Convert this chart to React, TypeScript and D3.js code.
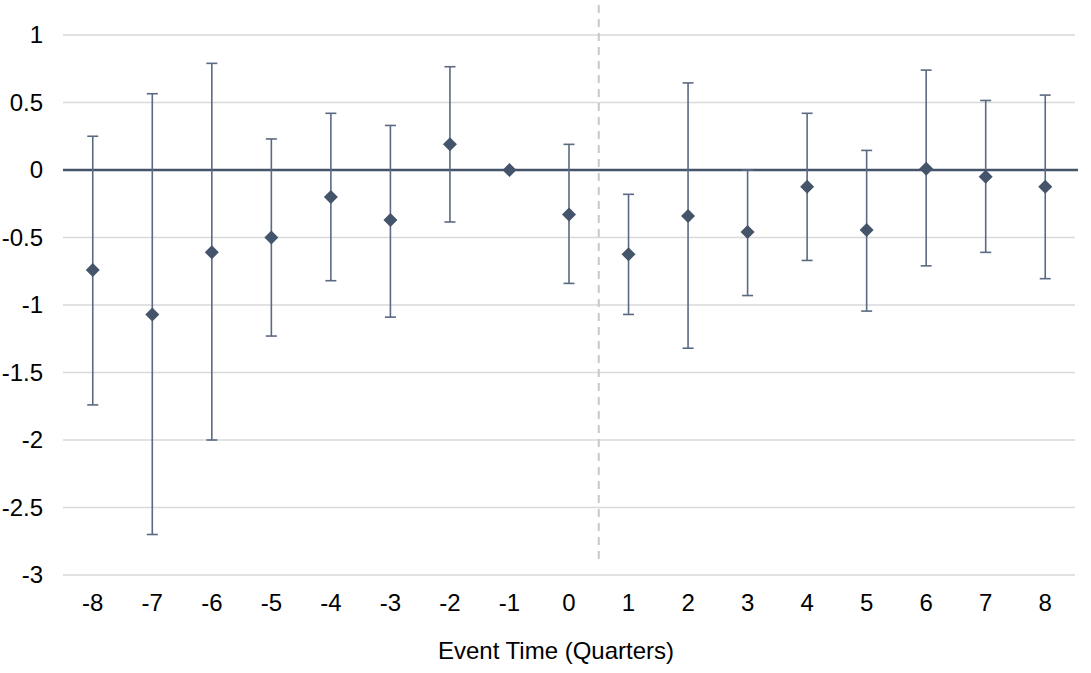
import { useRef, useEffect } from "react";
import * as d3 from "d3";

// Event-study estimates with confidence intervals
const quarters = ["-8", "-7", "-6", "-5", "-4", "-3", "-2", "-1", "0", "1", "2", "3", "4", "5", "6", "7", "8"];
const estimates = [-0.74, -1.07, -0.61, -0.5, -0.2, -0.37, 0.19, 0, -0.33, -0.625, -0.34, -0.46, -0.125, -0.445, 0.01, -0.05, -0.125];
const upperCI = [0.25, 0.565, 0.79, 0.23, 0.42, 0.33, 0.765, null, 0.19, -0.18, 0.645, 0.0, 0.42, 0.145, 0.74, 0.515, 0.555];
const lowerCI = [-1.74, -2.7, -2.0, -1.23, -0.82, -1.09, -0.385, null, -0.84, -1.07, -1.32, -0.93, -0.67, -1.045, -0.71, -0.61, -0.805];
const yTicks = [1, 0.5, 0, -0.5, -1, -1.5, -2, -2.5, -3];
const xTitle = "Event Time (Quarters)";
const eventAfter = "1";

const W = 1091;
const H = 673;
const FONT = "'Liberation Sans', Arial, sans-serif";
const FS = 24;

export default function App() {
  const ref = useRef<SVGSVGElement>(null);

  useEffect(() => {
    if (!ref.current) return;
    const svg = d3.select(ref.current);
    svg.selectAll("*").remove();

    const margin = { top: 35, right: 16, bottom: 98, left: 63 };

    const x = d3
      .scaleBand<string>()
      .domain(quarters)
      .range([margin.left, W - margin.right])
      .padding(0);

    const y = d3
      .scaleLinear()
      .domain([-3, 1])
      .range([H - margin.bottom, margin.top]);

    const cx = (q: string) => (x(q) || 0) + x.bandwidth() / 2;

    // Grid
    svg
      .append("g")
      .selectAll("line")
      .data(yTicks.filter((t) => t !== 0))
      .join("line")
      .attr("x1", margin.left)
      .attr("x2", W - margin.right)
      .attr("y1", (d) => y(d))
      .attr("y2", (d) => y(d))
      .attr("stroke", "#d9d9d9")
      .attr("stroke-width", 1.3);

    // Y tick labels
    svg
      .append("g")
      .selectAll("text")
      .data(yTicks)
      .join("text")
      .attr("x", 43)
      .attr("y", (d) => y(d))
      .attr("dy", "0.35em")
      .attr("text-anchor", "end")
      .attr("font-family", FONT)
      .attr("font-size", FS)
      .attr("fill", "#000")
      .text((d) => String(d));

    // X tick labels
    svg
      .append("g")
      .selectAll("text")
      .data(quarters)
      .join("text")
      .attr("x", (d) => cx(d))
      .attr("y", 611)
      .attr("text-anchor", "middle")
      .attr("font-family", FONT)
      .attr("font-size", FS)
      .attr("fill", "#000")
      .text((d) => d);

    // X title
    svg
      .append("text")
      .attr("x", 556)
      .attr("y", 659)
      .attr("text-anchor", "middle")
      .attr("font-family", FONT)
      .attr("font-size", FS)
      .attr("fill", "#000")
      .text(xTitle);

    // Event line (dashed)
    const ex = x(eventAfter) || 0;
    svg
      .append("line")
      .attr("x1", ex)
      .attr("x2", ex)
      .attr("y1", 5)
      .attr("y2", 564)
      .attr("stroke", "#c8c8c8")
      .attr("stroke-width", 2)
      .attr("stroke-dasharray", "8,6");

    // Zero line
    svg
      .append("line")
      .attr("x1", margin.left)
      .attr("x2", W - margin.right + 3)
      .attr("y1", y(0))
      .attr("y2", y(0))
      .attr("stroke", "#44546a")
      .attr("stroke-width", 2.6);

    const data = quarters.map((q, i) => ({
      q,
      v: estimates[i],
      hi: upperCI[i],
      lo: lowerCI[i],
    }));
    const bars = data.filter((d) => d.hi !== null && d.lo !== null);
    const barColor = "#5a6a82";
    const cap = 5.5;

    const eg = svg.append("g");
    eg.selectAll("line.v")
      .data(bars)
      .join("line")
      .attr("class", "v")
      .attr("x1", (d) => cx(d.q))
      .attr("x2", (d) => cx(d.q))
      .attr("y1", (d) => y(d.hi as number))
      .attr("y2", (d) => y(d.lo as number))
      .attr("stroke", barColor)
      .attr("stroke-width", 1.6);
    for (const key of ["hi", "lo"] as const) {
      eg.selectAll(`line.cap-${key}`)
        .data(bars)
        .join("line")
        .attr("class", `cap-${key}`)
        .attr("x1", (d) => cx(d.q) - cap)
        .attr("x2", (d) => cx(d.q) + cap)
        .attr("y1", (d) => y(d[key] as number))
        .attr("y2", (d) => y(d[key] as number))
        .attr("stroke", barColor)
        .attr("stroke-width", 1.6);
    }

    // Diamonds
    const diamond = d3.symbol().type(d3.symbolSquare).size(98);
    svg
      .append("g")
      .selectAll("path")
      .data(data)
      .join("path")
      .attr("d", diamond() as string)
      .attr("transform", (d) => `translate(${cx(d.q)},${y(d.v)}) rotate(45)`)
      .attr("fill", "#44546a");
  }, []);

  return (
    <svg
      ref={ref}
      width={W}
      height={H}
      style={{ position: "absolute", left: 0, top: 0, background: "#fff" }}
    />
  );
}
